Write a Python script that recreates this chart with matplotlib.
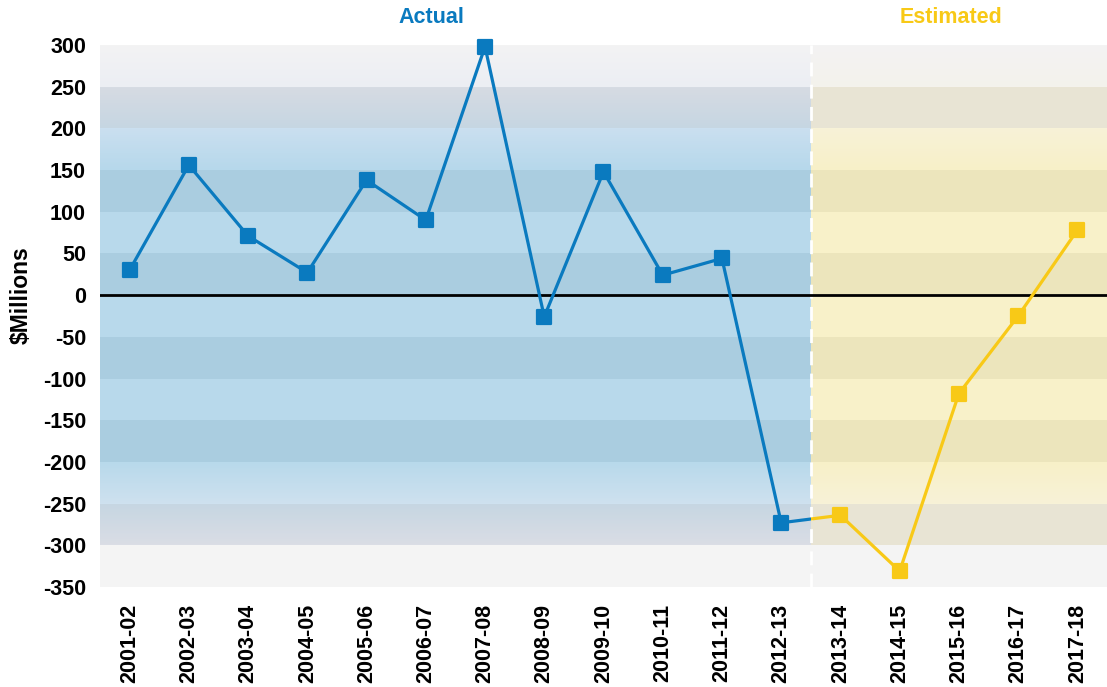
import numpy as np
import matplotlib
matplotlib.use("Agg")
import matplotlib.pyplot as plt
from matplotlib.colors import to_rgb
from matplotlib.patches import Rectangle
from matplotlib.markers import MarkerStyle

plt.rcParams['font.family'] = ['Liberation Sans', 'DejaVu Sans']
plt.rcParams['font.weight'] = 'bold'

years = ["2001-02", "2002-03", "2003-04", "2004-05", "2005-06", "2006-07",
         "2007-08", "2008-09", "2009-10", "2010-11", "2011-12", "2012-13",
         "2013-14", "2014-15", "2015-16", "2016-17", "2017-18"]
actual = [30, 156, 71, 27, 138, 90, 298, -26, 148, 24, 44, -273]
estimated = [-264, -331, -118, -25, 78]
yticks = [300, 250, 200, 150, 100, 50, 0, -50, -100, -150, -200, -250, -300, -350]

blue = "#0a7abf"
yellow = "#f8c917"

# band colours (top colour, bottom colour) from 300 down to -350
band_left = [("#f3f3f3", "#eceef3"), ("#d6dbe3", "#c6d6e2"), ("#cadff0", "#b6d8eb"),
             ("#aacde0", "#aacde0"), ("#b8d9eb", "#b8d9eb"), ("#aacde0", "#aacde0"),
             ("#b8d9eb", "#b8d9eb"), ("#aacde0", "#aacde0"), ("#b8d9eb", "#b8d9eb"),
             ("#aacde0", "#aacde0"), ("#b8d9eb", "#cee1ef"), ("#c6d6e2", "#dadde5"),
             ("#f4f4f4", "#f4f4f4")]
band_right = [("#f3f3f3", "#f4f2ec"), ("#e8e4d4", "#e8e4d4"), ("#f7f2d7", "#f7f0c8"),
              ("#ece5bc", "#ece5bc"), ("#f8f1c9", "#f8f1c9"), ("#ece5bc", "#ece5bc"),
              ("#f8f1c9", "#f8f1c9"), ("#ece5bc", "#ece5bc"), ("#f8f1c9", "#f8f1c9"),
              ("#ece5bc", "#ece5bc"), ("#f7f0c8", "#f7f2d7"), ("#e8e4d4", "#e8e4d4"),
              ("#f4f4f4", "#f4f4f4")]


def band_image(bands, rows=50):
    img = []
    for top, bot in bands:
        t = np.array(to_rgb(top))
        b = np.array(to_rgb(bot))
        for f in np.linspace(0, 1, rows):
            img.append(t + (b - t) * f)
    return np.array(img)[:, None, :]


fig = plt.figure(figsize=(11.07, 6.87), dpi=100)
ax = fig.add_axes([0.0903, 0.1456, 0.9097, 0.7889])

split = len(actual) - 0.5
xmin, xmax = -0.5, len(years) - 0.5
ymin, ymax = -350, 300

ax.imshow(band_image(band_left), extent=[xmin, split, ymin, ymax], aspect='auto',
          interpolation='nearest', zorder=0)
ax.imshow(band_image(band_right), extent=[split, xmax, ymin, ymax], aspect='auto',
          interpolation='nearest', zorder=0)

ax.axvline(split, color='white', lw=2, dashes=(5, 3), zorder=2)
ax.axhline(0, color='black', lw=2, zorder=2.5)

xa = np.arange(len(actual))
xe = np.arange(len(actual), len(years))

# connecting segment: blue left of split, yellow right of split
link_x = [xa[-1], xe[0]]
link_y = [actual[-1], estimated[0]]
l1, = ax.plot(link_x, link_y, color=blue, lw=2.3, zorder=3)
l1.set_clip_path(Rectangle((xmin, ymin), split - xmin, ymax - ymin, transform=ax.transData))
l2, = ax.plot(link_x, link_y, color=yellow, lw=2.3, zorder=3)
l2.set_clip_path(Rectangle((split, ymin), xmax - split, ymax - ymin, transform=ax.transData))

sq = MarkerStyle('s', joinstyle='round')
ax.plot(xa, actual, color=blue, lw=2.3, marker=sq, ms=9.5, mec=blue, mew=1.6,
        zorder=4, clip_on=False)
ax.plot(xe, estimated, color=yellow, lw=2.3, marker=sq, ms=9.5, mec=yellow, mew=1.6,
        zorder=4, clip_on=False)

ax.set_xlim(xmin, xmax)
ax.set_ylim(ymin, ymax)
ax.set_yticks(yticks)
ax.set_yticklabels([str(v) for v in yticks], fontsize=15.5, fontweight='bold')
ax.set_xticks(range(len(years)))
ax.set_xticklabels(years, rotation=90, fontsize=15.5, fontweight='bold')
ax.tick_params(length=0)
ax.tick_params(axis='x', pad=12)
ax.tick_params(axis='y', pad=10)
for s in ax.spines.values():
    s.set_visible(False)
ax.set_ylabel("$Millions", fontsize=16.5, fontweight='bold')
ax.yaxis.set_label_coords(-0.067, 0.538)

ax.text(5.1, 1.05, "Actual", transform=ax.get_xaxis_transform(), color=blue,
        fontsize=15.5, fontweight='bold', ha='center', va='center')
ax.text(13.87, 1.05, "Estimated", transform=ax.get_xaxis_transform(), color=yellow,
        fontsize=15.5, fontweight='bold', ha='center', va='center')

fig.savefig("out.png", dpi=100)
